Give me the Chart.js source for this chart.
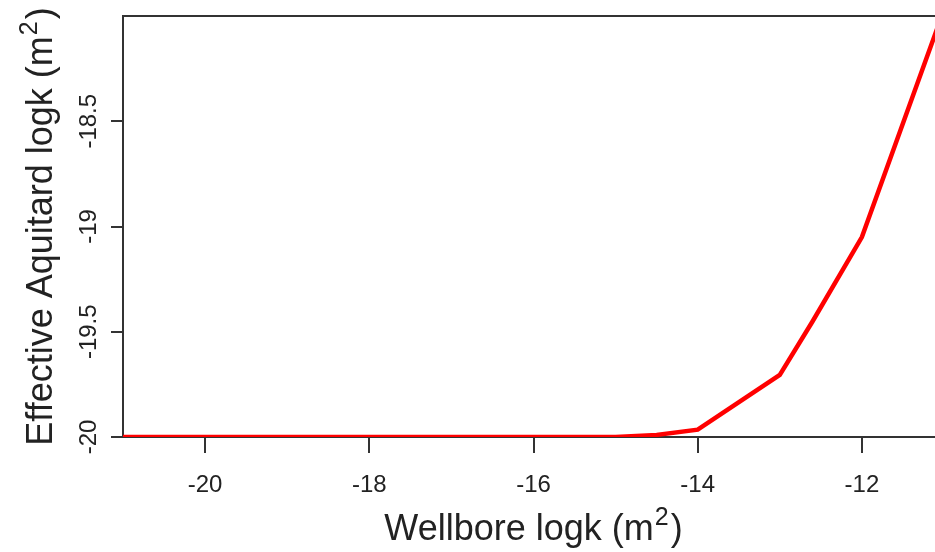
<!DOCTYPE html>
<html>
<head>
<meta charset="utf-8">
<script src="https://cdn.jsdelivr.net/npm/chart.js@4.4.1/dist/chart.umd.min.js"></script>
<style>
  html, body { margin: 0; padding: 0; background: #fff; overflow: hidden; }
  #wrap { position: relative; width: 960px; height: 552px; }
</style>
</head>
<body>
<div id="wrap"><canvas id="chart" width="960" height="552"></canvas></div>
<script>
// effective aquitard permeability as a function of wellbore permeability (log10 m^2)
const wellboreLogK = [-21, -20, -19, -18, -17, -16, -15, -14.5, -14, -13, -12.6, -12, -11];
const aquitardLogK = [-20, -20, -20, -20, -20, -20, -20, -19.99, -19.965, -19.705, -19.45, -19.05, -17.97];
const xTicks = [-20, -18, -16, -14, -12];
const yTicks = [-20, -19.5, -19, -18.5];
const xRange = [-21, -11];
const yRange = [-20, -18];

const FONT = '"Liberation Sans", Arial, sans-serif';
const INK = '#222';
const AXIS = '#333';

// draws "base" + superscript + "tail" centred on (cx, baseline y) of current transform
function drawSupText(ctx, base, sup, tail, cx, y, size) {
    ctx.font = size + 'px ' + FONT;
    const wBase = ctx.measureText(base).width;
    const wTail = ctx.measureText(tail).width;
    ctx.font = Math.round(size * 0.7) + 'px ' + FONT;
    const wSup = ctx.measureText(sup).width;
    let x = cx - (wBase + wSup + 3 + wTail) / 2;
    ctx.textAlign = 'left';
    ctx.textBaseline = 'alphabetic';
    ctx.font = size + 'px ' + FONT;
    ctx.fillText(base, x, y);
    x += wBase + 1;
    ctx.font = Math.round(size * 0.7) + 'px ' + FONT;
    ctx.fillText(sup, x, y - size * 0.42);
    x += wSup + 2;
    ctx.font = size + 'px ' + FONT;
    ctx.fillText(tail, x, y);
}

const frame = {
    id: 'frame',
    afterDraw(chart) {
        const { ctx, chartArea: a, scales } = chart;
        ctx.save();
        // top and right sides of the box
        ctx.strokeStyle = AXIS;
        ctx.lineWidth = 2;
        ctx.beginPath();
        ctx.moveTo(a.left, a.top);
        ctx.lineTo(a.right, a.top);
        ctx.lineTo(a.right, a.bottom);
        ctx.stroke();

        // y tick labels, turned to run along the axis
        ctx.fillStyle = INK;
        ctx.font = '24px ' + FONT;
        ctx.textAlign = 'center';
        ctx.textBaseline = 'middle';
        yTicks.forEach(v => {
            const py = scales.y.getPixelForValue(v);
            ctx.save();
            ctx.translate(89, py);
            ctx.rotate(-Math.PI / 2);
            ctx.fillText(String(v), 0, 0);
            ctx.restore();
        });

        // axis titles
        drawSupText(ctx, 'Wellbore logk (m', '2', ')', (a.left + a.right) / 2, 540, 36);
        ctx.save();
        ctx.translate(52, (a.top + a.bottom) / 2);
        ctx.rotate(-Math.PI / 2);
        drawSupText(ctx, 'Effective Aquitard logk (m', '2', ')', 0, 0, 36);
        ctx.restore();
        ctx.restore();
    }
};

new Chart(document.getElementById('chart'), {
    type: 'line',
    data: {
        datasets: [{
            data: wellboreLogK.map((x, i) => ({ x: x, y: aquitardLogK[i] })),
            borderColor: '#ff0000',
            borderWidth: 4.5,
            pointRadius: 0,
            tension: 0,
            fill: false
        }]
    },
    options: {
        responsive: false,
        animation: false,
        layout: { padding: { top: 16, right: 16, left: 0, bottom: 0 } },
        plugins: { legend: { display: false }, tooltip: { enabled: false } },
        scales: {
            x: {
                type: 'linear',
                min: xRange[0],
                max: xRange[1],
                z: 1,
                afterBuildTicks: s => { s.ticks = xTicks.map(v => ({ value: v })); },
                afterFit: s => { s.height = 115; },
                grid: { drawOnChartArea: false, drawTicks: true, tickLength: 16, color: AXIS, lineWidth: 2 },
                border: { display: true, color: AXIS, width: 2 },
                ticks: { font: { family: FONT, size: 24 }, color: INK, padding: 18, maxRotation: 0, autoSkip: false }
            },
            y: {
                type: 'linear',
                min: yRange[0],
                max: yRange[1],
                z: 1,
                afterBuildTicks: s => { s.ticks = yTicks.map(v => ({ value: v })); },
                afterFit: s => { s.width = 123; },
                grid: { drawOnChartArea: false, drawTicks: true, tickLength: 12, color: AXIS, lineWidth: 2 },
                border: { display: true, color: AXIS, width: 2 },
                ticks: { display: false }
            }
        }
    },
    plugins: [frame]
});
</script>
</body>
</html>
